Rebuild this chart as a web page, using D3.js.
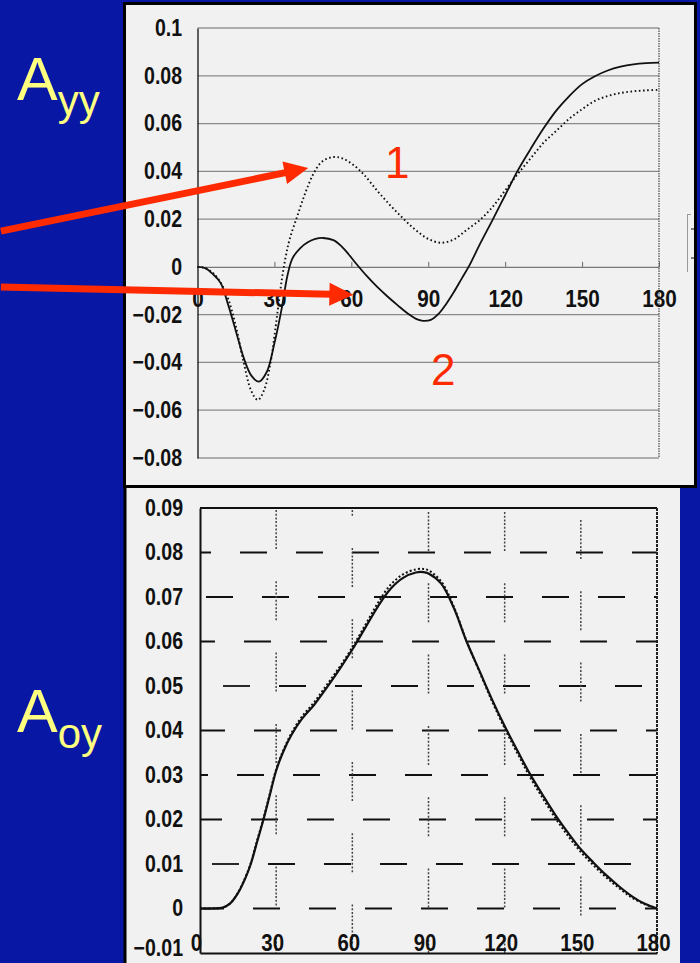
<!DOCTYPE html>
<html>
<head>
<meta charset="utf-8">
<script src="https://cdn.jsdelivr.net/npm/d3@7"></script>
<style>
  html, body { margin: 0; padding: 0; background: #0818a5; }
  svg { display: block; }
</style>
</head>
<body>
<svg id="chart" width="700" height="963"></svg>
<script>
// ---------- Ayy (upper chart) ----------
const ayyTickValues = [0.1, 0.08, 0.06, 0.04, 0.02, 0, -0.02, -0.04, -0.06, -0.08];
const ayyTickLabels = ["0.1", "0.08", "0.06", "0.04", "0.02", "0", "\u22120.02", "\u22120.04", "\u22120.06", "\u22120.08"];
const angleTicks = [0, 30, 60, 90, 120, 150, 180];
const angleLabels = ["0", "30", "60", "90", "120", "150", "180"];

// curve 2 (solid)
const ayySolidAngles = [0, 3, 6, 9, 12, 15, 18, 21, 24, 27, 30, 33, 35, 37, 40, 43, 46, 49, 53, 56, 59, 62, 66, 70, 74, 78, 82, 86, 88, 91, 94, 97, 100, 103, 106, 110, 115, 120, 125, 130, 135, 140, 145, 150, 155, 160, 165, 170, 175, 180];
const ayySolidValues = [0, -0.0005, -0.003, -0.0067, -0.016, -0.027, -0.038, -0.0455, -0.048, -0.044, -0.032, -0.0165, -0.004, 0.0035, 0.0078, 0.0103, 0.0117, 0.0121, 0.0112, 0.0088, 0.0052, 0.0012, -0.0038, -0.0083, -0.0123, -0.016, -0.0195, -0.0221, -0.0226, -0.0222, -0.0197, -0.0155, -0.0105, -0.005, 0.0005, 0.0092, 0.0195, 0.030, 0.0405, 0.0495, 0.058, 0.0655, 0.0715, 0.0765, 0.0798, 0.0822, 0.0838, 0.0848, 0.0853, 0.0855];

// curve 1 (dotted)
const ayyDottedAngles = [0, 3, 6, 9, 12, 15, 18, 21, 23.5, 26, 28.5, 30, 31.5, 33, 34.5, 36, 39, 42, 45, 48, 51, 54, 57, 61, 65, 70, 75, 80, 85, 90, 95, 100, 105, 110, 115, 120, 125, 130, 135, 140, 145, 150, 155, 160, 165, 170, 175, 180];
const ayyDottedValues = [0, -0.0005, -0.0025, -0.0065, -0.0135, -0.025, -0.04, -0.052, -0.0557, -0.0515, -0.04, -0.029, -0.0165, -0.0045, 0.0048, 0.0118, 0.0215, 0.0308, 0.0385, 0.0435, 0.0455, 0.046, 0.0452, 0.0425, 0.0385, 0.032, 0.026, 0.0205, 0.0155, 0.0117, 0.0101, 0.0115, 0.0155, 0.0195, 0.025, 0.032, 0.039, 0.0455, 0.052, 0.057, 0.062, 0.066, 0.0695, 0.0715, 0.0728, 0.0735, 0.0739, 0.0741];

// pointer arrows (tail and tip in angle / value units) and curve numbers
const arrowTails = [[-76.7, 0.0150], [-76.7, -0.0084]];
const arrowTips = [[43.2, 0.0414], [60.8, -0.0117]];
const curveNumbers = ["1", "2"];
const curveNumberPos = [[77.9, 0.0372], [95.8, -0.0494]];

// ---------- Aoy (lower chart) ----------
const aoyTickValues = [0.09, 0.08, 0.07, 0.06, 0.05, 0.04, 0.03, 0.02, 0.01, 0, -0.01];
const aoyTickLabels = ["0.09", "0.08", "0.07", "0.06", "0.05", "0.04", "0.03", "0.02", "0.01", "0", "\u22120.01"];

const aoySolidAngles = [0, 5, 9, 12, 15, 18, 20, 22.5, 25, 27.5, 30, 33, 36, 40, 45, 50, 55, 60, 65, 70, 75, 80, 85, 88, 90, 95, 100, 105, 110, 115, 120, 125, 130, 135, 140, 145, 150, 155, 160, 165, 170, 175, 180];
const aoySolidValues = [0, 0, 0.0002, 0.0012, 0.0035, 0.007, 0.01, 0.015, 0.02, 0.0255, 0.031, 0.0355, 0.039, 0.0425, 0.0458, 0.0497, 0.0538, 0.0582, 0.063, 0.0678, 0.0718, 0.0743, 0.0755, 0.0756, 0.0753, 0.073, 0.0675, 0.060, 0.0535, 0.047, 0.041, 0.0355, 0.0302, 0.0255, 0.021, 0.017, 0.0133, 0.0103, 0.0075, 0.005, 0.0028, 0.0011, 0];

const aoyDottedAngles = aoySolidAngles;
const aoyDottedValues = [0, 0, 0.0002, 0.0012, 0.0036, 0.0072, 0.0102, 0.0153, 0.0203, 0.0258, 0.0313, 0.0358, 0.0394, 0.043, 0.0464, 0.0503, 0.0543, 0.0587, 0.0636, 0.0686, 0.0727, 0.0751, 0.0762, 0.0763, 0.076, 0.0735, 0.0678, 0.0601, 0.0533, 0.0466, 0.0405, 0.0349, 0.0295, 0.0248, 0.0203, 0.0163, 0.0127, 0.0097, 0.007, 0.0046, 0.0025, 0.001, 0];

// grid rows drawn as broken dashes, columns as broken dotted runs
const aoyGridRows = [0.08, 0.07, 0.06, 0.05, 0.04, 0.03, 0.02, 0.01, 0];
const aoyGridRowStart = [40, 6, -12, 23, -2, 37, -5, 12, -3];
const aoyGridCols = [30, 60, 90, 120, 150];
const aoyGridColStart = [2, 40, 4, 4, 12];

const FONT = "'Liberation Sans', Arial, Helvetica, sans-serif";

const svg = d3.select("#chart");

// ---------- panels ----------
svg.append("rect").attr("x", 124).attr("y", 488).attr("width", 556).attr("height", 475).attr("fill", "#f1f1f1");
svg.append("line").attr("x1", 125).attr("x2", 125).attr("y1", 486).attr("y2", 963)
  .attr("stroke", "#000").attr("stroke-width", 3);
svg.append("rect").attr("x", 124.5).attr("y", 3.5).attr("width", 571).attr("height", 483)
  .attr("fill", "#f1f1f1").attr("stroke", "#000").attr("stroke-width", 3);

// left-hand titles
function title(y, main, sub, subDy) {
  const t = svg.append("text").attr("x", 17).attr("y", y)
    .attr("font-family", FONT).attr("fill", "#ffff80");
  t.append("tspan").attr("font-size", 61).text(main);
  t.append("tspan").attr("font-size", 42).attr("dy", subDy).text(sub);
}
title(100, "A", "yy", 15);
title(732, "A", "oy", 16);

// ---------- upper chart ----------
const x1 = d3.scaleLinear().domain([0, 180]).range([197.5, 659]);
const y1 = d3.scaleLinear().domain([-0.08, 0.1]).range([458, 28]);
const g1 = svg.append("g");

// horizontal grid
g1.selectAll("line.grid").data(ayyTickValues.filter(v => v !== 0)).join("line")
  .attr("class", "grid")
  .attr("x1", x1(0)).attr("x2", x1(180))
  .attr("y1", d => y1(d)).attr("y2", d => y1(d))
  .attr("stroke", d => (d === 0.1 || d === -0.08) ? "#6a6a6a" : "#8a8a8a")
  .attr("stroke-width", 1.2);

// right frame edge
g1.append("line").attr("x1", x1(180)).attr("x2", x1(180)).attr("y1", y1(0.1)).attr("y2", y1(-0.08))
  .attr("stroke", "#555").attr("stroke-width", 1.3).attr("stroke-dasharray", "1.5,1");

// y axis
const yAxis1 = d3.axisLeft(y1).tickValues(ayyTickValues)
  .tickFormat((d, i) => ayyTickLabels[i]).tickSize(0).tickPadding(18.2);
const ya1 = g1.append("g").attr("transform", `translate(${x1(0)},0)`).call(yAxis1);
ya1.select(".domain").attr("stroke", "#222").attr("stroke-width", 1.4);
ya1.selectAll("text").attr("font-family", FONT).attr("font-weight", "bold")
  .attr("font-size", 23).attr("fill", "#111").attr("transform", "scale(0.85,1)");

// x axis on the zero line
const xAxis1 = d3.axisBottom(x1).tickValues(angleTicks)
  .tickFormat((d, i) => angleLabels[i]).tickSizeInner(-5).tickSizeOuter(0).tickPadding(24);
const xa1 = g1.append("g").attr("transform", `translate(0,${y1(0)})`).call(xAxis1);
xa1.select(".domain").attr("stroke", "#777").attr("stroke-width", 1.2);
xa1.selectAll(".tick line").attr("stroke", "#666").attr("stroke-width", 1);
xa1.selectAll("text").attr("font-family", FONT).attr("font-weight", "bold")
  .attr("font-size", 23).attr("fill", "#111").attr("transform", "scale(0.9,1)");

// small legend remnant at the panel edge
g1.append("line").attr("x1", 687.5).attr("x2", 687.5).attr("y1", 214).attr("y2", 272)
  .attr("stroke", "#9a9a9a").attr("stroke-width", 1);
g1.append("line").attr("x1", 687.5).attr("x2", 691).attr("y1", 214.5).attr("y2", 214.5)
  .attr("stroke", "#9a9a9a").attr("stroke-width", 1);
g1.append("line").attr("x1", 691).attr("x2", 694).attr("y1", 229).attr("y2", 229)
  .attr("stroke", "#333").attr("stroke-width", 1.2);
g1.append("line").attr("x1", 691).attr("x2", 694).attr("y1", 258).attr("y2", 258)
  .attr("stroke", "#333").attr("stroke-width", 1.2);

const line1 = d3.line().x(d => x1(d[0])).y(d => y1(d[1])).curve(d3.curveCatmullRom.alpha(0.5));
g1.append("path").datum(d3.zip(ayySolidAngles, ayySolidValues)).attr("d", line1)
  .attr("fill", "none").attr("stroke", "#111").attr("stroke-width", 1.8);
g1.append("path").datum(d3.zip(ayyDottedAngles, ayyDottedValues)).attr("d", line1)
  .attr("fill", "none").attr("stroke", "#111").attr("stroke-width", 1.9)
  .attr("stroke-dasharray", "1.6,2.6");

// ---------- lower chart ----------
const x2 = d3.scaleLinear().domain([0, 180]).range([200, 657]);
const y2 = d3.scaleLinear().domain([-0.01, 0.09]).range([953, 508]);
const g2 = svg.append("g");

g2.selectAll("line.hgrid").data(aoyGridRows).join("line")
  .attr("class", "hgrid")
  .attr("x1", x2(0)).attr("x2", x2(180))
  .attr("y1", d => y2(d)).attr("y2", d => y2(d))
  .attr("stroke", "#111").attr("stroke-width", 1.8)
  .attr("stroke-dasharray", "27,29")
  .attr("stroke-dashoffset", (d, i) => -aoyGridRowStart[i]);

// dotted runs: 40px of fine dots, then a 32px gap
const dotRun = [];
for (let k = 0; k < 11; k++) dotRun.push(2, 1.7);
dotRun[dotRun.length - 1] = 32.3;
g2.selectAll("line.vgrid").data(aoyGridCols).join("line")
  .attr("class", "vgrid")
  .attr("x1", d => x2(d)).attr("x2", d => x2(d))
  .attr("y1", y2(0.09)).attr("y2", y2(-0.01))
  .attr("stroke", "#444").attr("stroke-width", 1.5)
  .attr("stroke-dasharray", dotRun.join(","))
  .attr("stroke-dashoffset", (d, i) => -aoyGridColStart[i]);

// frame
g2.append("line").attr("x1", x2(0)).attr("x2", x2(180)).attr("y1", y2(0.09)).attr("y2", y2(0.09))
  .attr("stroke", "#111").attr("stroke-width", 2);
g2.append("line").attr("x1", x2(180)).attr("x2", x2(180)).attr("y1", y2(0.09)).attr("y2", y2(-0.01))
  .attr("stroke", "#222").attr("stroke-width", 2).attr("stroke-dasharray", "3,1");

const yAxis2 = d3.axisLeft(y2).tickValues(aoyTickValues)
  .tickFormat((d, i) => aoyTickLabels[i]).tickSize(0).tickPadding(20);
const ya2 = g2.append("g").attr("transform", `translate(${x2(0)},0)`).call(yAxis2);
ya2.select(".domain").attr("stroke", "#111").attr("stroke-width", 2);
ya2.selectAll("text").attr("font-family", FONT).attr("font-weight", "bold")
  .attr("font-size", 23).attr("fill", "#111").attr("transform", "scale(0.85,1)");
// keep the lowest label inside the page
ya2.selectAll(".tick").filter(d => d === -0.01).select("text").attr("dy", "0.1em");

const xAxis2 = d3.axisTop(x2).tickValues(angleTicks)
  .tickFormat((d, i) => angleLabels[i]).tickSize(0).tickPadding(2);
const xa2 = g2.append("g").attr("transform", `translate(-4,${y2(-0.01)})`).call(xAxis2);
xa2.select(".domain").attr("stroke", "#111").attr("stroke-width", 2).attr("transform", "translate(4,0)");
xa2.selectAll("text").attr("font-family", FONT).attr("font-weight", "bold")
  .attr("font-size", 24).attr("fill", "#111").attr("transform", "scale(0.85,1)");

const line2 = d3.line().x(d => x2(d[0])).y(d => y2(d[1])).curve(d3.curveCatmullRom.alpha(0.5));
g2.append("path").datum(d3.zip(aoySolidAngles, aoySolidValues)).attr("d", line2)
  .attr("fill", "none").attr("stroke", "#111").attr("stroke-width", 2.2);
g2.append("path").datum(d3.zip(aoyDottedAngles, aoyDottedValues)).attr("d", line2)
  .attr("fill", "none").attr("stroke", "#111").attr("stroke-width", 2)
  .attr("stroke-dasharray", "2,2.2");

// ---------- red pointers and curve numbers ----------
const RED = "#ff2a00";
const ga = svg.append("g");
arrowTips.forEach((tip, i) => {
  const tail = arrowTails[i];
  const tx = x1(tail[0]), ty = y1(tail[1]);
  const px = x1(tip[0]), py = y1(tip[1]);
  const len = Math.hypot(px - tx, py - ty);
  const ux = (px - tx) / len, uy = (py - ty) / len;
  const headLen = 24, headHalf = 11.5;
  const bx = px - ux * headLen, by = py - uy * headLen;
  ga.append("line").attr("x1", tx).attr("y1", ty).attr("x2", bx + ux * 2).attr("y2", by + uy * 2)
    .attr("stroke", RED).attr("stroke-width", 7);
  ga.append("path")
    .attr("d", `M${px},${py}L${bx - uy * headHalf},${by + ux * headHalf}L${bx + uy * headHalf},${by - ux * headHalf}Z`)
    .attr("fill", RED);
});
ga.selectAll("text.num").data(curveNumbers).join("text")
  .attr("class", "num")
  .attr("x", (d, i) => x1(curveNumberPos[i][0]))
  .attr("y", (d, i) => y1(curveNumberPos[i][1]))
  .attr("text-anchor", "middle")
  .attr("font-family", FONT).attr("font-size", 44).attr("fill", RED)
  .text(d => d);
</script>
</body>
</html>
